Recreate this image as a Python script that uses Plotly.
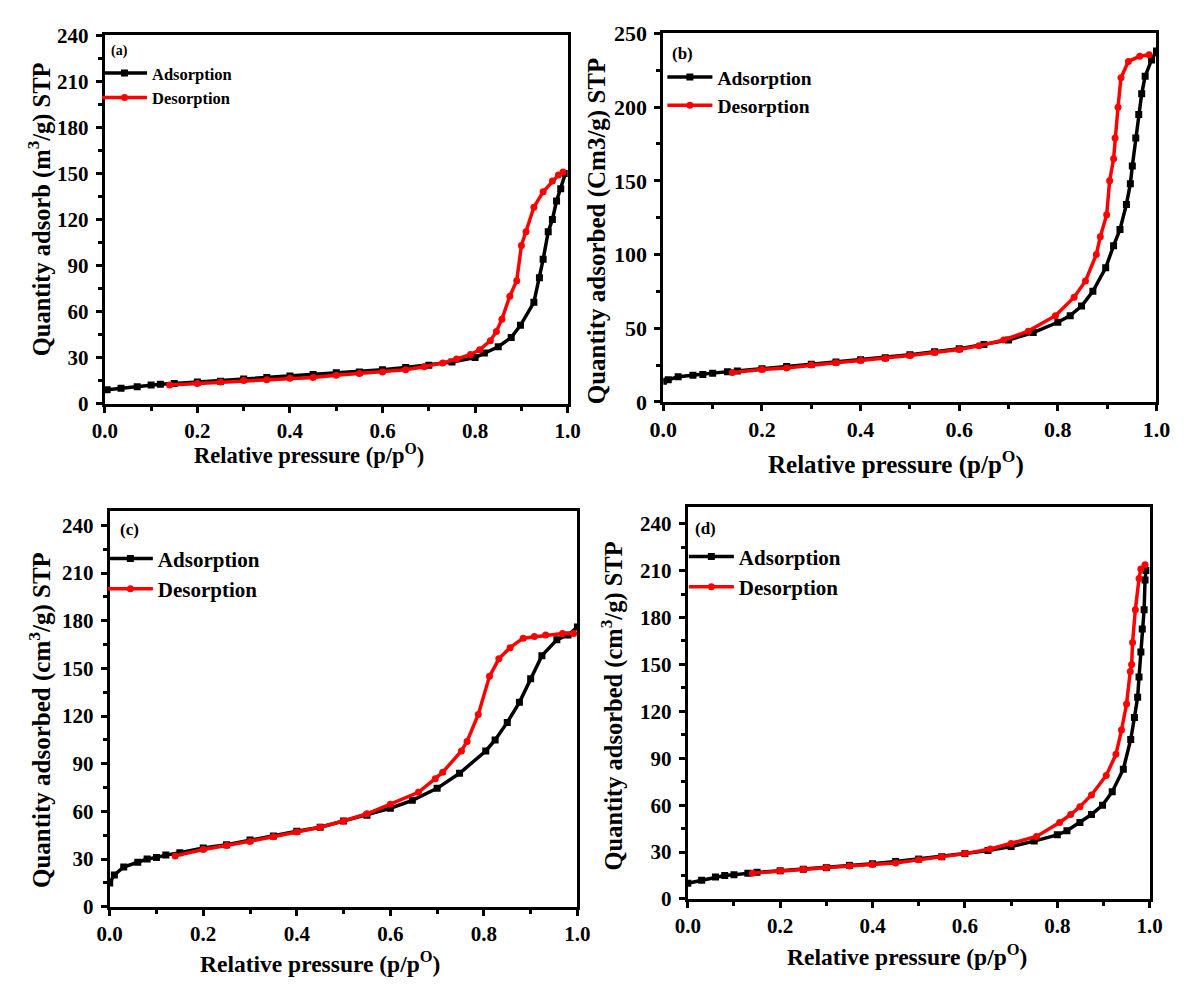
import plotly.graph_objects as go

W, H = 1191, 987
FONT = "Liberation Serif"


def fx(p):
    return p / W


def fy(p):
    return 1 - p / H


# ---------------- data ----------------
ads_a_x = [0.005, 0.035, 0.07, 0.1, 0.12, 0.15, 0.2, 0.25, 0.3, 0.35, 0.4, 0.45, 0.5, 0.55, 0.6, 0.65, 0.7, 0.75,
           0.8, 0.82, 0.85, 0.878, 0.898, 0.927, 0.939, 0.947, 0.958, 0.967, 0.976, 0.985, 0.995]
ads_a_y = [9, 10, 11, 12, 12.5, 13, 14, 14.5, 16, 17, 18, 19, 20, 20.5, 22, 23.5, 25, 27,
           30, 33, 37, 43, 51, 66, 82, 94, 112, 120, 132, 140, 150]
des_a_x = [0.14, 0.2, 0.25, 0.3, 0.35, 0.4, 0.45, 0.5, 0.55, 0.6, 0.65, 0.69, 0.73, 0.76, 0.79, 0.81, 0.833,
           0.846, 0.858, 0.875, 0.89, 0.9, 0.91, 0.927, 0.947, 0.967, 0.98, 0.99]
des_a_y = [12, 13, 14, 15, 15.5, 16.5, 17, 18.5, 19.5, 20.5, 22, 24, 26.5, 29, 32, 35, 41,
           47, 55, 70, 80, 103, 112, 128, 138, 145, 149, 151]

ads_b_x = [0.0, 0.01, 0.03, 0.06, 0.08, 0.1, 0.13, 0.15, 0.2, 0.25, 0.3, 0.35, 0.4, 0.45, 0.5, 0.55, 0.6, 0.65,
           0.7, 0.75, 0.8, 0.825, 0.848, 0.871, 0.897, 0.913, 0.926, 0.939, 0.947, 0.951, 0.958, 0.964, 0.97,
           0.977, 0.99, 1.0]
ads_b_y = [14, 15, 17, 18, 18.5, 19.5, 20.5, 21, 22.5, 24, 25.5, 27, 28.5, 30, 32, 34, 36, 39,
           42, 47, 54, 58.5, 65, 75, 91, 106, 117, 134, 148, 160, 179, 195, 209,
           221, 232, 238]
des_b_x = [0.14, 0.2, 0.25, 0.3, 0.35, 0.4, 0.45, 0.5, 0.55, 0.6, 0.64, 0.69, 0.74, 0.795, 0.833, 0.856, 0.878,
           0.886, 0.899, 0.905, 0.913, 0.916, 0.922, 0.928, 0.943, 0.966, 0.985]
des_b_y = [20, 22, 23, 25, 26.5, 28, 29.5, 31.5, 33.5, 35.5, 38, 42, 48, 58.5, 71, 82, 100,
           112, 127, 150, 165, 179, 200, 220, 231, 234.5, 235.5]

ads_c_x = [0.0, 0.01, 0.03, 0.06, 0.08, 0.1, 0.12, 0.15, 0.2, 0.25, 0.3, 0.35, 0.4, 0.45, 0.5, 0.55, 0.6,
           0.647, 0.7, 0.748, 0.804, 0.824, 0.85, 0.876, 0.9, 0.924, 0.956, 0.98, 1.0]
ads_c_y = [15, 20, 25, 28, 30, 31, 32.5, 34, 37, 39, 42, 44.5, 47.5, 50, 54, 57.5, 62,
           67, 74.5, 84, 98, 105, 116, 128.6, 143.5, 158, 168, 171, 176]
des_c_x = [0.14, 0.2, 0.25, 0.3, 0.35, 0.4, 0.45, 0.5, 0.55, 0.6, 0.66, 0.696, 0.712, 0.752, 0.764, 0.788,
           0.812, 0.832, 0.856, 0.884, 0.908, 0.932, 0.968, 0.992]
des_c_y = [32, 36, 38.5, 41, 44, 47, 50, 54, 58.5, 64.5, 72, 80.6, 84.7, 98, 104, 121,
           145, 156, 163, 169, 170, 171, 172, 172]

ads_d_x = [0.0, 0.03, 0.06, 0.08, 0.1, 0.13, 0.15, 0.2, 0.25, 0.3, 0.35, 0.4, 0.45, 0.5, 0.55, 0.6, 0.65,
           0.7, 0.75, 0.8, 0.821, 0.849, 0.874, 0.898, 0.919, 0.943, 0.959, 0.967, 0.974, 0.977, 0.981,
           0.984, 0.988, 0.99, 0.992]
ads_d_y = [10, 12, 14, 15, 15.5, 16.5, 17, 18, 19, 20, 21.5, 22.5, 24, 25.5, 27, 29, 31,
           33.5, 37, 41, 43.6, 48.9, 54, 60, 68.6, 83, 102, 116, 129, 142, 158,
           172.6, 185, 204, 210]
des_d_x = [0.14, 0.2, 0.25, 0.3, 0.35, 0.4, 0.45, 0.5, 0.55, 0.6, 0.655, 0.7, 0.755, 0.805, 0.829, 0.849,
           0.874, 0.906, 0.927, 0.939, 0.95, 0.958, 0.961, 0.963, 0.969, 0.977, 0.981, 0.99]
des_d_y = [16.5, 18, 19, 20, 21, 22, 23, 25, 27, 29, 32, 35.5, 40, 48.9, 54, 59,
           66.5, 79, 92.5, 108, 124.7, 145.5, 150, 164, 185, 205, 211, 213.7]

series_names = ["Adsorption", "Desorption"]
panel_labels = ["(a)", "(b)", "(c)", "(d)"]
y_titles = ["Quantity adsorb (m<sup>3</sup>/g) STP",
            "Quantity adsorbed (Cm3/g) STP",
            "Quantity adsorbed (cm<sup>3</sup>/g) STP",
            "Quantity adsorbed (cm<sup>3</sup>/g) STP"]
x_title = "Relative pressure (p/p<sup>O</sup>)"
y_ranges = [[0, 240], [0, 250], [0, 249], [0, 250.6]]
y_dticks = [30, 50, 30, 30]

# ---------------- layout geometry (page pixels) ----------------
boxes = [(93, 567, 24, 401.7), (665, 1170, 22, 400), (98, 577, 512, 918), (690, 1163, 508, 910)]
tick_sizes = [21, 22, 21, 21]
xtitle_sizes = [22.5, 25, 23.5, 23.5]
ytitle_sizes = [24.5, 25, 25, 24.5]
xtitle_pos = [(302, 453), (903, 462), (313, 975), (914, 968)]
ytitle_pos = [(27, 202), (597, 224), (27, 726), (613, 712)]
legend_sizes = [16.5, 19.5, 21, 21]
legend_pos = [(85, 45), (664, 47), (91, 540), (686, 538)]
label_pos = [(108, 40), (685, 43), (118, 531), (708, 530)]
label_sizes = [14, 17, 17, 17]

data = [(ads_a_x, ads_a_y, des_a_x, des_a_y), (ads_b_x, ads_b_y, des_b_x, des_b_y),
        (ads_c_x, ads_c_y, des_c_x, des_c_y), (ads_d_x, ads_d_y, des_d_x, des_d_y)]

fig = go.Figure()
layout = dict(width=W, height=H, margin=dict(l=0, r=0, t=0, b=0),
              paper_bgcolor="white", plot_bgcolor="white", showlegend=True,
              font=dict(family=FONT, color="black"))
annotations = []

for i, (ax, ay, dx, dy) in enumerate(data):
    n = "" if i == 0 else str(i + 1)
    leg = "legend" if i == 0 else f"legend{i + 1}"
    fig.add_trace(go.Scatter(x=ax, y=ay, mode="lines+markers", name=series_names[0],
                             xaxis="x" + n, yaxis="y" + n, legend=leg,
                             line=dict(color="black", width=3.5),
                             marker=dict(symbol="square", size=7, color="black")))
    fig.add_trace(go.Scatter(x=dx, y=dy, mode="lines+markers", name=series_names[1],
                             xaxis="x" + n, yaxis="y" + n, legend=leg,
                             line=dict(color="#ff0000", width=3.5),
                             marker=dict(symbol="circle", size=7, color="#ff0000")))
    l, r, t, b = boxes[i]
    axis_common = dict(showline=True, linecolor="black", linewidth=3, mirror=True,
                       ticks="outside", ticklen=6, tickwidth=2.5, tickcolor="black",
                       showgrid=False, zeroline=False,
                       tickfont=dict(family=FONT, size=tick_sizes[i], color="black", weight="bold"))
    layout["xaxis" + n] = dict(axis_common, domain=[fx(l), fx(r)], range=[0, 1], dtick=0.2,
                               tickformat=".1f", anchor="y" + n,
                               minor=dict(dtick=0.1, ticks="outside", ticklen=4, tickwidth=2.5,
                                          tickcolor="black"))
    layout["yaxis" + n] = dict(axis_common, domain=[fy(b), fy(t)], range=y_ranges[i],
                               dtick=y_dticks[i], anchor="x" + n, ticklabelstandoff=3,
                               minor=dict(dtick=y_dticks[i] / 2, ticks="outside", ticklen=4,
                                          tickwidth=2.5, tickcolor="black"))
    # axis titles
    tx, ty = xtitle_pos[i]
    annotations.append(dict(text=x_title, x=fx(tx), y=fy(ty), xref="paper", yref="paper",
                            showarrow=False, xanchor="center", yanchor="middle",
                            font=dict(family=FONT, size=xtitle_sizes[i], weight="bold")))
    tx, ty = ytitle_pos[i]
    annotations.append(dict(text=y_titles[i], x=fx(tx), y=fy(ty), xref="paper", yref="paper",
                            showarrow=False, xanchor="center", yanchor="middle", textangle=-90,
                            font=dict(family=FONT, size=ytitle_sizes[i], weight="bold")))
    lx, ly = legend_pos[i]
    layout[leg] = dict(x=fx(lx), y=fy(ly), xanchor="left", yanchor="top",
                       bgcolor="rgba(0,0,0,0)", borderwidth=0, itemwidth=45,
                       tracegroupgap=0,
                       font=dict(family=FONT, size=legend_sizes[i], color="black", weight="bold"))
    px, py = label_pos[i]
    annotations.append(dict(text=panel_labels[i], x=fx(px), y=fy(py), xref="paper", yref="paper",
                            showarrow=False, xanchor="center", yanchor="middle",
                            font=dict(family=FONT, size=label_sizes[i], weight="bold")))

layout["annotations"] = annotations
fig.update_layout(**layout)
fig.write_html("out.html")
